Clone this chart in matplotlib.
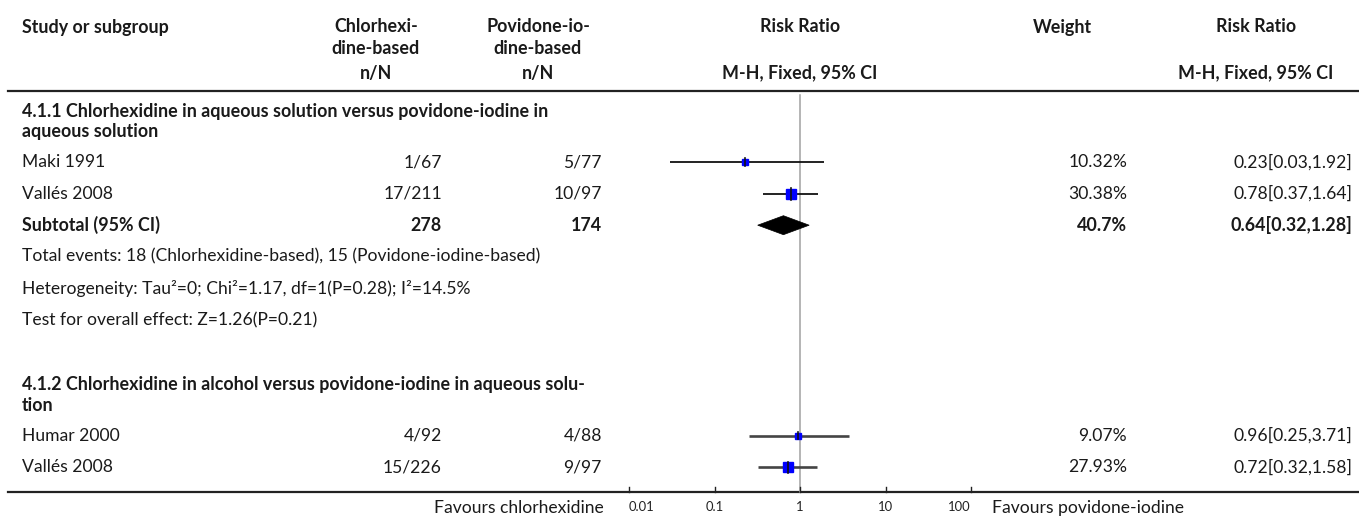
import matplotlib
matplotlib.use('Agg')
import numpy as np
from matplotlib import pyplot as plt
from matplotlib.patches import Polygon

'''
    Forest plot: chlorhexidine vs povidone-iodine (RevMan style)
'''

# group 1
g1_title = ['4.1.1 Chlorhexidine in aqueous solution versus povidone-iodine in',
            'aqueous solution']
g1_studies = ['Maki 1991', 'Vallés 2008']
g1_chx_events = [1, 17]
g1_chx_total = [67, 211]
g1_pvi_events = [5, 10]
g1_pvi_total = [77, 97]
g1_weight = [10.32, 30.38]
g1_rr = [0.23, 0.78]
g1_lo = [0.03, 0.37]
g1_hi = [1.92, 1.64]

# subtotal for group 1
sub_chx_total = 278
sub_pvi_total = 174
sub_weight = 40.7
sub_rr, sub_lo, sub_hi = 0.64, 0.32, 1.28
sub_notes = ['Total events: 18 (Chlorhexidine-based), 15 (Povidone-iodine-based)',
             'Heterogeneity: Tau\u00b2=0; Chi\u00b2=1.17, df=1(P=0.28); I\u00b2=14.5%',
             'Test for overall effect: Z=1.26(P=0.21)']

# group 2
g2_title = ['4.1.2 Chlorhexidine in alcohol versus povidone-iodine in aqueous solu-',
            'tion']
g2_studies = ['Humar 2000', 'Vallés 2008']
g2_chx_events = [4, 15]
g2_chx_total = [92, 226]
g2_pvi_events = [4, 9]
g2_pvi_total = [88, 97]
g2_weight = [9.07, 27.93]
g2_rr = [0.96, 0.72]
g2_lo = [0.25, 0.32]
g2_hi = [3.71, 1.58]

tick_vals = [0.01, 0.1, 1, 10, 100]
tick_labels = ['0.01', '0.1', '1', '10', '100']
favours_left = 'Favours chlorhexidine'
favours_right = 'Favours povidone-iodine'

W, H = 1359, 519
plt.rcParams['font.family'] = ['Lato', 'DejaVu Sans']
FS = 12.6
FSB = 12.9
TXT = '#1a1a1a'

fig = plt.figure(figsize=(W / 100, H / 100), dpi=100)
bg = fig.add_axes([0, 0, 1, 1])
bg.set_xlim(0, W)
bg.set_ylim(H, 0)
bg.axis('off')

# forest panel, x in log risk ratio, y in pixel rows
x0, x1 = 629, 971
ax = fig.add_axes([x0 / W, 0, (x1 - x0) / W, 1])
ax.set_xscale('log')
ax.set_xlim(0.01, 100)
ax.set_ylim(H, 0)
ax.axis('off')

# column anchors (pixels)
c_study = 22
c_chx_hdr, c_chx = 376, 442
c_pvi_hdr, c_pvi = 538, 602
c_plot = 800
c_wt_hdr, c_wt = 1062, 1127
c_rr_hdr, c_rr = 1256, 1352


def txt(x, y, s, ha='left', bold=False, color=TXT):
    bg.text(x, y, s, ha=ha, va='center', fontsize=FSB if bold else FS,
            fontweight='bold' if bold else 'normal', color=color)


# header
y_h1, y_h2, y_h3 = 27, 48, 73
txt(c_study, y_h1, 'Study or subgroup', bold=True)
txt(c_chx_hdr, y_h1, 'Chlorhexi-', ha='center', bold=True)
txt(c_chx_hdr, y_h2, 'dine-based', ha='center', bold=True)
txt(c_pvi_hdr, y_h1, 'Povidone-io-', ha='center', bold=True)
txt(c_pvi_hdr, y_h2, 'dine-based', ha='center', bold=True)
txt(c_plot, y_h1, 'Risk Ratio', ha='center', bold=True)
txt(c_wt_hdr, y_h1, 'Weight', ha='center', bold=True)
txt(c_rr_hdr, y_h1, 'Risk Ratio', ha='center', bold=True)
txt(c_chx_hdr, y_h3, 'n/N', ha='center', bold=True)
txt(c_pvi_hdr, y_h3, 'n/N', ha='center', bold=True)
txt(c_plot, y_h3, 'M-H, Fixed, 95% CI', ha='center', bold=True)
txt(c_rr_hdr, y_h3, 'M-H, Fixed, 95% CI', ha='center', bold=True)

y_top, y_bot = 91, 492
bg.plot([8, W], [y_top, y_top], color='#222222', lw=1.6)

ROW = 31.6
max_w = max(g1_weight + g2_weight)


def study_rows(y, studies, ce, ct, pe, pt, wt, rr, lo, hi,
               ci_color='#111111', ci_lw=1.3):
    for i, name in enumerate(studies):
        txt(c_study, y, name)
        txt(c_chx, y, f'{ce[i]}/{ct[i]}', ha='right')
        txt(c_pvi, y, f'{pe[i]}/{pt[i]}', ha='right')
        txt(c_wt, y, f'{wt[i]:g}%', ha='right')
        txt(c_rr, y, f'{rr[i]:.2f}[{lo[i]:.2f},{hi[i]:.2f}]', ha='right')
        ax.plot([lo[i], hi[i]], [y, y], color=ci_color, lw=ci_lw,
                solid_capstyle='butt', clip_on=False)
        side = 10 * np.sqrt(wt[i] / max_w)
        ax.plot([rr[i]], [y], marker='s', ms=side * 0.72, color='#0000ff',
                mec='#0000ff', clip_on=False)
        ax.plot([rr[i], rr[i]], [y - side / 2 - 1, y + side / 2 + 1],
                color='#111111', lw=1.2, clip_on=False)
        y += ROW
    return y


def title_rows(y, lines):
    for k, line in enumerate(lines):
        txt(c_study, y + 21 * k, line, bold=True)
    return y + 21 * (len(lines) - 1) + 30


# null line
ax.plot([1, 1], [y_top + 4, y_bot], color='#a0a0a0', lw=1.1, zorder=0)

y = 111
y = title_rows(y, g1_title)
y = study_rows(y, g1_studies, g1_chx_events, g1_chx_total, g1_pvi_events,
               g1_pvi_total, g1_weight, g1_rr, g1_lo, g1_hi)

# subtotal
txt(c_study, y, 'Subtotal (95% CI)', bold=True)
txt(c_chx, y, f'{sub_chx_total}', ha='right', bold=True)
txt(c_pvi, y, f'{sub_pvi_total}', ha='right', bold=True)
txt(c_wt, y, f'{sub_weight:g}%', ha='right', bold=True)
txt(c_rr, y, f'{sub_rr:.2f}[{sub_lo:.2f},{sub_hi:.2f}]', ha='right', bold=True)
dh = 9.5
ax.add_patch(Polygon([(sub_lo, y), (sub_rr, y - dh), (sub_hi, y), (sub_rr, y + dh)],
                     closed=True, facecolor='black', edgecolor='black', lw=0.5,
                     clip_on=False))
y += ROW
for note in sub_notes:
    txt(c_study, y, note)
    y += ROW

y += ROW + 1.5
y = title_rows(y, g2_title)
y = study_rows(y, g2_studies, g2_chx_events, g2_chx_total, g2_pvi_events,
               g2_pvi_total, g2_weight, g2_rr, g2_lo, g2_hi,
               ci_color='#444444', ci_lw=1.9)

# bottom axis
bg.plot([8, W], [y_bot, y_bot], color='#222222', lw=1.6)
for k, (t, lab) in enumerate(zip(tick_vals, tick_labels)):
    ax.plot([t, t], [y_bot - 5, y_bot], color='#222222', lw=1, clip_on=False)
    ha = 'left' if k == 0 else ('right' if k == len(tick_vals) - 1 else 'center')
    ax.text(t, 507, lab, ha=ha, va='center', fontsize=9.4, color='#222222')
txt(604, 508, favours_left, ha='right')
txt(992, 508, favours_right)

fig.savefig('out.png', dpi=100)
